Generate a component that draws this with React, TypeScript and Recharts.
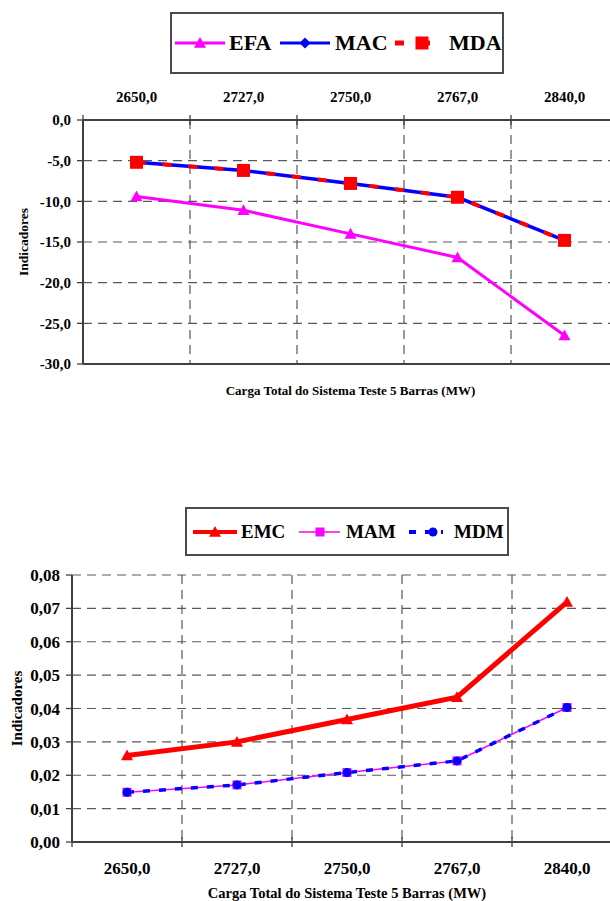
import React from "react";
import { LineChart, Line, XAxis, YAxis, CartesianGrid } from "recharts";

// categories (total load, MW)
const loads = ["2650,0", "2727,0", "2750,0", "2767,0", "2840,0"];

// upper chart
const efa = [-9.4, -11.1, -14.0, -16.9, -26.5];
const mac = [-5.2, -6.2, -7.8, -9.5, -14.8];
const mda = [-5.2, -6.2, -7.8, -9.5, -14.8];
const topTicks = [0, -5, -10, -15, -20, -25, -30];

// lower chart
const emc = [0.0259, 0.03, 0.0367, 0.0434, 0.0719];
const mam = [0.0149, 0.0171, 0.0208, 0.0243, 0.0403];
const mdm = [0.0149, 0.0171, 0.0208, 0.0243, 0.0403];
const bottomTicks = [0, 0.01, 0.02, 0.03, 0.04, 0.05, 0.06, 0.07, 0.08];

const xTitle = "Carga Total do Sistema Teste 5 Barras (MW)";
const yTitle = "Indicadores";

const FONT = "Liberation Serif, Tinos, Times New Roman, DejaVu Serif, serif";
const AXIS = "#404040";
const GRID = "#595959";

const topData = loads.map((load, i) => ({ load, EFA: efa[i], MAC: mac[i], MDA: mda[i] }));
const bottomData = loads.map((load, i) => ({ load, EMC: emc[i], MAM: mam[i], MDM: mdm[i] }));

type Shape = "triangle" | "square" | "diamond" | "circle";

function Marker({ shape, cx, cy, size, color }: { shape: Shape; cx: number; cy: number; size: number; color: string }) {
  const h = size / 2;
  if (shape === "triangle")
    return <path d={`M${cx},${cy - h} L${cx + h},${cy + h * 0.8} L${cx - h},${cy + h * 0.8} Z`} fill={color} />;
  if (shape === "square") return <rect x={cx - h} y={cy - h} width={size} height={size} fill={color} />;
  if (shape === "diamond")
    return <path d={`M${cx},${cy - h} L${cx + h},${cy} L${cx},${cy + h} L${cx - h},${cy} Z`} fill={color} />;
  return <circle cx={cx} cy={cy} r={h} fill={color} />;
}

interface SeriesStyle {
  key: string;
  color: string;
  width: number;
  legendWidth: number;
  dash?: string;
  shape: Shape;
  size: number;
}

const topSeries: SeriesStyle[] = [
  { key: "EFA", color: "#FF00FF", width: 3, legendWidth: 3, shape: "triangle", size: 12 },
  { key: "MAC", color: "#0000FF", width: 3.5, legendWidth: 3, shape: "diamond", size: 11 },
  { key: "MDA", color: "#FF0000", width: 4, legendWidth: 5, dash: "9 17", shape: "square", size: 13 },
];

const bottomSeries: SeriesStyle[] = [
  { key: "EMC", color: "#FF0000", width: 5, legendWidth: 4, shape: "triangle", size: 12 },
  { key: "MAM", color: "#FF00FF", width: 1.5, legendWidth: 1.5, shape: "square", size: 9 },
  { key: "MDM", color: "#0000FF", width: 3.5, legendWidth: 4, dash: "7 9", shape: "circle", size: 9 },
];

const fmt1 = (v: number) => v.toFixed(1).replace(".", ",");
const fmt2 = (v: number) => v.toFixed(2).replace(".", ",");

// category tick with a crossing mark on the left band boundary
function makeTick(lineY: number, textDy: number, fontSize: number, half: number) {
  return (props: any) => {
    const { x, payload } = props;
    return (
      <g>
        <line x1={x - half} x2={x - half} y1={lineY - 5} y2={lineY + 5} stroke={AXIS} strokeWidth={1.3} />
        <text x={x} y={lineY + textDy} dy="0.35em" textAnchor="middle" fill="#000" fontSize={fontSize} fontWeight="bold" fontFamily={FONT}>
          {payload.value}
        </text>
      </g>
    );
  };
}

function yLabel(x: number, fontSize: number) {
  return (p: any) => {
    const vb = p.viewBox;
    const cy = vb.y + vb.height / 2;
    return (
      <text x={x} y={cy} dy="0.35em" transform={`rotate(-90 ${x} ${cy})`} textAnchor="middle" fill="#000" fontSize={fontSize} fontWeight="bold" fontFamily={FONT}>
        {yTitle}
      </text>
    );
  };
}

function xLabel(offset: number, fontSize: number) {
  return (p: any) => {
    const vb = p.viewBox;
    return (
      <text x={vb.x + vb.width / 2} y={vb.y + vb.height - offset} textAnchor="middle" fill="#000" fontSize={fontSize} fontWeight="bold" fontFamily={FONT}>
        {xTitle}
      </text>
    );
  };
}

const boundaries = ({ offset }: any) =>
  loads.slice(1).map((_, i) => offset.left + (offset.width * (i + 1)) / loads.length);

function renderLine(s: SeriesStyle) {
  return (
    <Line
      key={s.key}
      type="linear"
      dataKey={s.key}
      stroke={s.color}
      strokeWidth={s.width}
      strokeDasharray={s.dash}
      dot={(p: any) => <Marker key={`${s.key}-${p.index}`} shape={s.shape} cx={p.cx} cy={p.cy} size={s.size} color={s.color} />}
      activeDot={false}
      isAnimationActive={false}
    />
  );
}

interface LegendPos {
  sampleLeft: number;
  sampleWidth: number;
  markerX: number;
  textLeft: number;
}

function LegendBox({ left, top, width, height, fontSize, series, pos }: {
  left: number; top: number; width: number; height: number; fontSize: number; series: SeriesStyle[]; pos: LegendPos[];
}) {
  return (
    <div style={{ position: "absolute", left, top, width, height, boxSizing: "border-box", border: "2px solid #4a4a4a", background: "#fff" }}>
      {series.map((s, i) => (
        <React.Fragment key={s.key}>
          <div style={{ position: "absolute", left: pos[i].sampleLeft - 2, top: 0, height: "100%", display: "flex", alignItems: "center" }}>
            <svg width={pos[i].sampleWidth} height={20} style={{ display: "block" }}>
              <line x1={0} y1={10} x2={pos[i].sampleWidth} y2={10} stroke={s.color} strokeWidth={s.legendWidth} strokeDasharray={s.dash} />
              <Marker shape={s.shape} cx={pos[i].markerX} cy={10} size={s.size} color={s.color} />
            </svg>
          </div>
          <div style={{ position: "absolute", left: pos[i].textLeft - 2, top: 0, height: "100%", display: "flex", alignItems: "center", fontFamily: FONT, fontWeight: "bold", fontSize, color: "#000" }}>
            {s.key}
          </div>
        </React.Fragment>
      ))}
    </div>
  );
}

const topLegendPos: LegendPos[] = [
  { sampleLeft: 5, sampleWidth: 50, markerX: 25, textLeft: 59 },
  { sampleLeft: 110, sampleWidth: 50, markerX: 25, textLeft: 165 },
  { sampleLeft: 225, sampleWidth: 45, markerX: 27, textLeft: 279 },
];

const bottomLegendPos: LegendPos[] = [
  { sampleLeft: 8, sampleWidth: 44, markerX: 22, textLeft: 56 },
  { sampleLeft: 114, sampleWidth: 41, markerX: 21, textLeft: 161 },
  { sampleLeft: 224, sampleWidth: 34, markerX: 24, textLeft: 269 },
];

const yTick = (fontSize: number) => ({ fill: "#000", fontSize, fontWeight: "bold", fontFamily: FONT });

export default function App() {
  return (
    <div style={{ position: "absolute", left: 0, top: 0, width: 610, height: 901, overflow: "hidden", background: "#fff" }}>
      <LegendBox left={170} top={12} width={334} height={62} fontSize={22} series={topSeries} pos={topLegendPos} />

      <div style={{ position: "absolute", left: 0, top: 0 }}>
        <LineChart width={630} height={420} data={topData} margin={{ top: 90, right: 12, bottom: 16, left: 0 }}>
          <CartesianGrid stroke={GRID} strokeWidth={1.2} strokeDasharray="9 6" verticalCoordinatesGenerator={boundaries} />
          <XAxis
            dataKey="load"
            orientation="top"
            scale="band"
            height={30}
            interval={0}
            tickLine={false}
            axisLine={{ stroke: AXIS, strokeWidth: 2 }}
            tick={makeTick(120, -23, 15, 53.5)}
          />
          <XAxis
            xAxisId="b"
            dataKey="load"
            orientation="bottom"
            scale="band"
            height={40}
            tick={false}
            tickLine={false}
            axisLine={{ stroke: AXIS, strokeWidth: 2 }}
            label={{ content: xLabel(9, 13) }}
          />
          <YAxis
            type="number"
            domain={[-30, 0]}
            ticks={topTicks}
            interval={0}
            width={83}
            tickFormatter={fmt1}
            tick={yTick(15)}
            tickSize={6}
            tickMargin={6}
            tickLine={{ stroke: AXIS, strokeWidth: 1.3 }}
            axisLine={{ stroke: AXIS, strokeWidth: 2 }}
            label={{ content: yLabel(23, 13.5) }}
          />
          {topSeries.map(renderLine)}
        </LineChart>
      </div>

      <LegendBox left={185} top={507} width={324} height={49} fontSize={19} series={bottomSeries} pos={bottomLegendPos} />

      <div style={{ position: "absolute", left: 0, top: 560 }}>
        <LineChart width={630} height={341} data={bottomData} margin={{ top: 15, right: 8, bottom: 0, left: 0 }}>
          <CartesianGrid stroke={GRID} strokeWidth={1.2} strokeDasharray="9 6" verticalCoordinatesGenerator={boundaries} />
          <XAxis
            dataKey="load"
            orientation="bottom"
            scale="band"
            height={59}
            interval={0}
            tickLine={false}
            axisLine={{ stroke: AXIS, strokeWidth: 2 }}
            tick={makeTick(282, 26, 17, 55)}
            label={{ content: xLabel(3, 14.5) }}
          />
          <XAxis
            xAxisId="t"
            dataKey="load"
            orientation="top"
            scale="band"
            height={0}
            tick={false}
            tickLine={false}
            axisLine={{ stroke: AXIS, strokeWidth: 2 }}
          />
          <YAxis
            type="number"
            domain={[0, 0.08]}
            ticks={bottomTicks}
            interval={0}
            width={72}
            tickFormatter={fmt2}
            tick={yTick(17)}
            tickSize={6}
            tickMargin={6}
            tickLine={{ stroke: AXIS, strokeWidth: 1.3 }}
            axisLine={{ stroke: AXIS, strokeWidth: 2 }}
            label={{ content: yLabel(17, 15) }}
          />
          {bottomSeries.map(renderLine)}
        </LineChart>
      </div>
    </div>
  );
}
